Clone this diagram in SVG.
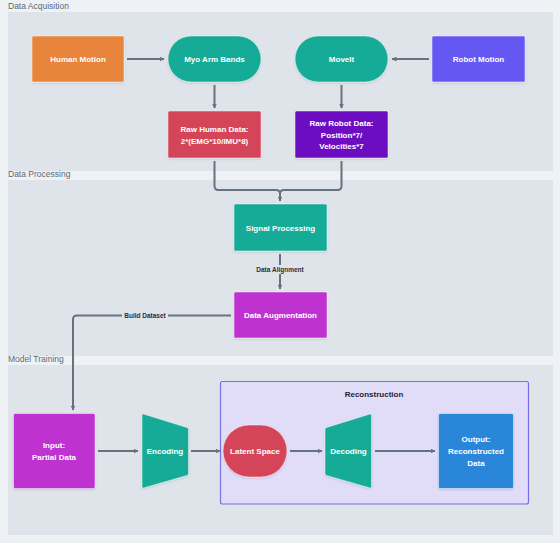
<svg xmlns="http://www.w3.org/2000/svg" width="560" height="543" viewBox="0 0 560 543">
<defs>
<marker id="arr" viewBox="0 0 10 10" refX="9" refY="5" markerWidth="5" markerHeight="5" orient="auto" markerUnits="userSpaceOnUse">
<path d="M0,0 L10,5 L0,10 z" fill="#66727f"/>
</marker>
<filter id="sh" x="-20%" y="-20%" width="140%" height="140%">
<feDropShadow dx="0" dy="1" stdDeviation="1" flood-color="#000" flood-opacity="0.15"/>
</filter>
</defs>
<style>
.grp{fill:#dfe4eb;}
.glbl{font-family:"Liberation Sans",Arial,sans-serif;font-size:8.5px;fill:#5f6874;}
.nt{font-family:"Liberation Sans",Arial,sans-serif;font-size:8px;font-weight:bold;fill:#ffffff;text-anchor:middle;}
.el{font-family:"Liberation Sans",Arial,sans-serif;font-size:6.5px;font-weight:bold;fill:#2b2f36;text-anchor:middle;}
.node{stroke:#ffffff;stroke-opacity:0.6;stroke-width:0.8;filter:url(#sh);}
.c{fill:none;stroke:#66727f;stroke-width:2;}
</style>
<rect x="0" y="0" width="560" height="543" fill="#eef2f5"/>
<g id="group-acq">
<rect class="grp" x="8" y="12" width="545" height="159"/>
<text class="glbl" x="8" y="9">Data Acquisition</text>
</g>
<g id="group-proc">
<rect class="grp" x="8" y="180" width="545" height="176"/>
<text class="glbl" x="8" y="177">Data Processing</text>
</g>
<g id="group-train">
<rect class="grp" x="8" y="365" width="545" height="170"/>
<text class="glbl" x="8" y="362">Model Training</text>
</g>
<g id="reconstruction">
<rect x="220.5" y="381.5" width="308" height="122.5" rx="2" fill="#e1ddf9" stroke="#7a6ee0" stroke-width="1.2"/>
<text x="374" y="397" text-anchor="middle" font-family="'Liberation Sans',Arial,sans-serif" font-size="8" font-weight="bold" fill="#1f2430">Reconstruction</text>
</g>
<g id="connectors">
<line class="c" x1="127" y1="59" x2="164" y2="59" marker-end="url(#arr)"/>
<line class="c" x1="429" y1="59" x2="392" y2="59" marker-end="url(#arr)"/>
<line class="c" x1="214.5" y1="85" x2="214.5" y2="108" marker-end="url(#arr)"/>
<line class="c" x1="341.5" y1="85" x2="341.5" y2="108" marker-end="url(#arr)"/>
<path class="c" d="M214.5,161 V186 Q214.5,190 218.5,190 H276 Q280,190 280,194 V201" marker-end="url(#arr)"/>
<path class="c" d="M341.5,161 V186 Q341.5,190 337.5,190 H284 Q280,190 280,194 V201"/>
<line class="c" x1="280" y1="254" x2="280" y2="289" marker-end="url(#arr)"/>
<rect x="252" y="265" width="56" height="9" fill="#dfe4eb"/>
<text class="el" x="280" y="271.5">Data Alignment</text>
<path class="c" d="M231,315.5 H77 Q73,315.5 73,319.5 V410" marker-end="url(#arr)"/>
<rect x="122" y="311" width="46" height="9" fill="#dfe4eb"/>
<text class="el" x="145" y="317.8">Build Dataset</text>
<line class="c" x1="98" y1="451" x2="138" y2="451" marker-end="url(#arr)"/>
<line class="c" x1="191" y1="451" x2="220" y2="451" marker-end="url(#arr)"/>
<line class="c" x1="290" y1="451" x2="322" y2="451" marker-end="url(#arr)"/>
<line class="c" x1="375" y1="451" x2="435" y2="451" marker-end="url(#arr)"/>
</g>
<g id="human-motion">
<rect class="node" x="32" y="36" width="92" height="46" rx="1.5" fill="#e8843a"/>
<text class="nt" x="78" y="62">Human Motion</text>
</g>
<g id="myo-arm-bands">
<rect class="node" x="168" y="36" width="93" height="46" rx="23" fill="#18ab96"/>
<text class="nt" x="214.5" y="62">Myo Arm Bands</text>
</g>
<g id="moveit">
<rect class="node" x="295" y="36" width="93" height="46" rx="23" fill="#18ab96"/>
<text class="nt" x="341.5" y="62">MoveIt</text>
</g>
<g id="robot-motion">
<rect class="node" x="432" y="36" width="93" height="46" rx="1.5" fill="#6558f2"/>
<text class="nt" x="478.5" y="62">Robot Motion</text>
</g>
<g id="raw-human-data">
<rect class="node" x="168" y="111" width="93" height="47" rx="1.5" fill="#d4455a"/>
<text class="nt" x="214.5" y="132">Raw Human Data:</text>
<text class="nt" x="214.5" y="144">2*(EMG*10/IMU*8)</text>
</g>
<g id="raw-robot-data">
<rect class="node" x="295" y="111" width="93" height="47" rx="1.5" fill="#6d10c2"/>
<text class="nt" x="341.5" y="126">Raw Robot Data:</text>
<text class="nt" x="341.5" y="137.5">Position*7/</text>
<text class="nt" x="341.5" y="149">Velocities*7</text>
</g>
<g id="signal-processing">
<rect class="node" x="234" y="204" width="93" height="47" rx="1.5" fill="#18ab96"/>
<text class="nt" x="280.5" y="230.5">Signal Processing</text>
</g>
<g id="data-augmentation">
<rect class="node" x="234" y="292" width="93" height="46" rx="1.5" fill="#be30d0"/>
<text class="nt" x="280.5" y="318">Data Augmentation</text>
</g>
<g id="input">
<rect class="node" x="13.5" y="413.5" width="81.5" height="75" rx="1.5" fill="#be30d0"/>
<text class="nt" x="54" y="448">Input:</text>
<text class="nt" x="54" y="460">Partial Data</text>
</g>
<g id="encoding">
<path class="node" d="M142,415 Q142,413.5 143.5,414 L187,427.5 Q188.5,428 188.5,429.5 L188.5,473.5 Q188.5,475 187,475.5 L143.5,488 Q142,488.5 142,487 Z" fill="#18ab96"/>
<text class="nt" x="165" y="454">Encoding</text>
</g>
<g id="latent-space">
<rect class="node" x="223" y="425" width="64" height="52" rx="26" fill="#d4455a"/>
<text class="nt" x="255" y="454">Latent Space</text>
</g>
<g id="decoding">
<path class="node" d="M371.5,415 Q371.5,413.5 370,414 L326.5,427.5 Q325,428 325,429.5 L325,473.5 Q325,475 326.5,475.5 L370,488 Q371.5,488.5 371.5,487 Z" fill="#18ab96"/>
<text class="nt" x="348.5" y="454">Decoding</text>
</g>
<g id="output">
<rect class="node" x="438.5" y="413.5" width="75" height="75" rx="1.5" fill="#2a86d9"/>
<text class="nt" x="476" y="442">Output:</text>
<text class="nt" x="476" y="454">Reconstructed</text>
<text class="nt" x="476" y="466">Data</text>
</g>
</svg>
